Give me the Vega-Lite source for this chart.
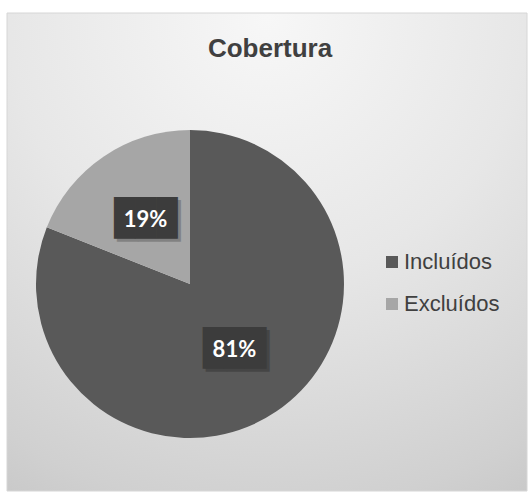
{
  "$schema": "https://vega.github.io/schema/vega-lite/v6.json",
  "width": 528,
  "height": 492,
  "autosize": {"type": "fit", "contains": "padding"},
  "padding": {"left": 6, "top": 12, "right": 0, "bottom": 0},
  "background": "white",
  "title": {
    "text": "Cobertura",
    "font": "Liberation Sans",
    "fontSize": 26,
    "fontWeight": "bold",
    "color": "#404040",
    "anchor": "middle",
    "dx": 3,
    "offset": -49
  },
  "data": {
    "values": [
      {"categoria": "Incluídos", "valor": 0.81},
      {"categoria": "Excluídos", "valor": 0.19}
    ]
  },
  "layer": [
    {
      "data": {"values": [{"fundo": 1}]},
      "mark": {
        "type": "rect",
        "stroke": "#d6d6d6",
        "strokeWidth": 1,
        "fill": {
          "gradient": "radial",
          "x1": 0.5, "y1": 0.05, "r1": 0,
          "x2": 0.5, "y2": 0.05, "r2": 1.1,
          "stops": [
            {"offset": 0, "color": "#f7f7f7"},
            {"offset": 0.45, "color": "#e7e7e7"},
            {"offset": 0.56, "color": "#e1e1e1"},
            {"offset": 0.86, "color": "#d0d0d0"},
            {"offset": 1, "color": "#c5c5c5"}
          ]
        }
      },
      "encoding": {}
    },
    {
      "mark": {"type": "arc", "radius": 154, "xOffset": -77, "yOffset": 32, "stroke": null},
      "encoding": {
        "theta": {"field": "valor", "type": "quantitative", "stack": true},
        "order": {"field": "valor", "type": "quantitative", "sort": "descending"},
        "color": {
          "field": "categoria",
          "type": "nominal",
          "scale": {"domain": ["Incluídos", "Excluídos"], "range": ["#595959", "#a6a6a6"]},
          "legend": {
            "orient": "none",
            "legendX": 374,
            "legendY": 238,
            "title": null,
            "padding": 0,
            "symbolType": "square",
            "symbolSize": 144,
            "symbolStrokeWidth": 0,
            "labelFont": "Liberation Sans",
            "labelFontSize": 22,
            "labelColor": "#404040",
            "labelOffset": 1,
            "rowPadding": 20
          }
        }
      }
    },
    {
      "mark": {"type": "text", "text": "███", "font": "DejaVu Sans Mono", "fontSize": 35, "baseline": "middle", "align": "center", "color": "#000000", "opacity": 0.22, "radius": 79, "xOffset": -74, "yOffset": 35},
      "encoding": {
        "theta": {"field": "valor", "type": "quantitative", "stack": true},
        "order": {"field": "valor", "type": "quantitative", "sort": "descending"}
      }
    },
    {
      "mark": {"type": "text", "text": "███", "font": "DejaVu Sans Mono", "fontSize": 35, "baseline": "middle", "align": "center", "color": "#3c3c3c", "radius": 79, "xOffset": -77, "yOffset": 32},
      "encoding": {
        "theta": {"field": "valor", "type": "quantitative", "stack": true},
        "order": {"field": "valor", "type": "quantitative", "sort": "descending"}
      }
    },
    {
      "mark": {"type": "text", "radius": 79, "xOffset": -77, "yOffset": 33, "font": "Lato", "fontSize": 22, "fontWeight": "bold", "color": "white", "baseline": "middle", "align": "center"},
      "encoding": {
        "theta": {"field": "valor", "type": "quantitative", "stack": true},
        "order": {"field": "valor", "type": "quantitative", "sort": "descending"},
        "text": {"field": "valor", "type": "quantitative", "format": ".0%"}
      }
    }
  ]
}
